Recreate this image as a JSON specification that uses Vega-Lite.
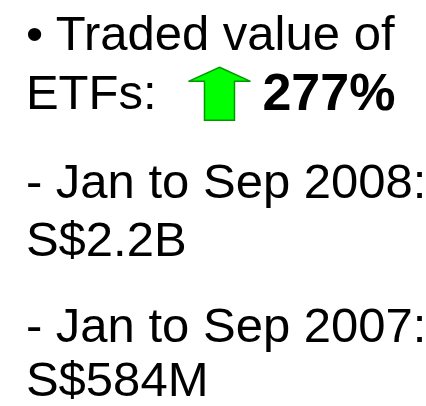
{
  "$schema": "https://vega.github.io/schema/vega-lite/v6.json",
  "width": 426,
  "height": 406,
  "autosize": {"type": "fit", "contains": "padding"},
  "padding": 0,
  "background": "white",
  "config": {"view": {"stroke": null}},
  "datasets": {
    "lines": [
      {"text": "• Traded value of", "x": 26, "y": 50},
      {"text": "ETFs:", "x": 26, "y": 110},
      {"text": "- Jan to Sep 2008:", "x": 26, "y": 199},
      {"text": "S$2.2B", "x": 26, "y": 258},
      {"text": "- Jan to Sep 2007:", "x": 26, "y": 345},
      {"text": "S$584M", "x": 26, "y": 399}
    ],
    "change": [
      {"text": "277%", "x": 263, "y": 111}
    ],
    "arrow": [
      {"direction": "up", "x": 220, "y": 94.5}
    ]
  },
  "layer": [
    {
      "data": {"name": "lines"},
      "mark": {"type": "text", "align": "left", "baseline": "alphabetic", "font": "Liberation Sans", "fontSize": 49, "color": "black"},
      "encoding": {
        "x": {"field": "x", "type": "quantitative", "scale": {"domain": [0, 426], "nice": false, "zero": false}, "axis": null},
        "y": {"field": "y", "type": "quantitative", "scale": {"domain": [406, 0], "nice": false, "zero": false}, "axis": null},
        "text": {"field": "text"}
      }
    },
    {
      "data": {"name": "change"},
      "mark": {"type": "text", "align": "left", "baseline": "alphabetic", "font": "Liberation Sans", "fontSize": 52, "fontWeight": "bold", "color": "black"},
      "encoding": {
        "x": {"field": "x", "type": "quantitative"},
        "y": {"field": "y", "type": "quantitative"},
        "text": {"field": "text"}
      }
    },
    {
      "data": {"name": "arrow"},
      "mark": {"type": "point", "shape": "M0,-0.855 L1,-0.403 L0.484,-0.403 L0.484,0.855 L-0.484,0.855 L-0.484,-0.403 L-1,-0.403 Z", "size": 3844, "filled": true, "fill": "#00FF00", "stroke": "#009900", "strokeWidth": 1.5, "opacity": 1},
      "encoding": {
        "x": {"field": "x", "type": "quantitative"},
        "y": {"field": "y", "type": "quantitative"}
      }
    }
  ]
}
